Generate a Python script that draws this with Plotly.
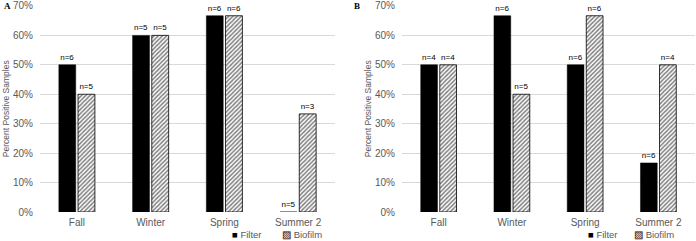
import plotly.graph_objects as go

categories = ["Fall", "Winter", "Spring", "Summer 2"]

a_filter = [50, 60, 66.67, 0]
a_biofilm = [40, 60, 66.67, 33.33]
a_filter_n = ["n=6", "n=5", "n=6", "n=5"]
a_biofilm_n = ["n=5", "n=5", "n=6", "n=3"]

b_filter = [50, 66.67, 50, 16.67]
b_biofilm = [50, 40, 66.67, 50]
b_filter_n = ["n=4", "n=6", "n=6", "n=6"]
b_biofilm_n = ["n=4", "n=5", "n=6", "n=4"]

y_ticks = [0, 10, 20, 30, 40, 50, 60, 70]
y_tick_labels = ["0%", "10%", "20%", "30%", "40%", "50%", "60%", "70%"]
series_names = ["Filter", "Biofilm"]

W, H = 696, 241
FONT = "Liberation Sans, Arial, sans-serif"
GRAY = "#595959"

fig = go.Figure()

def add_panel(fvals, bvals, fn, bn, xa, ya):
    fig.add_trace(go.Bar(
        x=categories, y=fvals, name=series_names[0], text=fn,
        textposition="outside", cliponaxis=False,
        textfont=dict(size=8, color="black", family=FONT),
        marker=dict(color="black", line=dict(color="black", width=0.5)),
        xaxis=xa, yaxis=ya, showlegend=False, hoverinfo="skip",
    ))
    fig.add_trace(go.Bar(
        x=categories, y=bvals, name=series_names[1], text=bn,
        textposition="outside", cliponaxis=False,
        textfont=dict(size=8, color="black", family=FONT),
        marker=dict(color="white", line=dict(color="black", width=0.8),
                    pattern=dict(shape="/", fgcolor="black", bgcolor="white",
                                 size=3, solidity=0.5)),
        xaxis=xa, yaxis=ya, showlegend=False, hoverinfo="skip",
    ))

add_panel(a_filter, a_biofilm, a_filter_n, a_biofilm_n, "x", "y")
add_panel(b_filter, b_biofilm, b_filter_n, b_biofilm_n, "x2", "y2")

ydom = [(H - 212) / H, (H - 5.5) / H]

xaxis_common = dict(showgrid=False, showline=False, zeroline=False, ticks="",
                    automargin=False, ticklabelstandoff=3,
                    tickfont=dict(size=10, color=GRAY, family=FONT))
yaxis_common = dict(range=[0, 70.15], tickvals=y_ticks, ticktext=y_tick_labels,
                    showgrid=True, gridcolor="#d9d9d9", gridwidth=1,
                    zeroline=False, showline=False, ticks="", automargin=False,
                    ticklabeloverflow="allow", ticklabelstandoff=6,
                    tickfont=dict(size=10, color=GRAY, family=FONT),
                    title=dict(text="Percent Positive Samples",
                               font=dict(size=8.5, color=GRAY, family=FONT),
                               standoff=2))

def legend_ann(x, text, sym):
    return dict(text=sym + " " + text, x=x / W, y=1 - 234 / H, xref="paper", yref="paper",
                xanchor="left", yanchor="middle", showarrow=False, borderpad=0,
                font=dict(size=9.5, color=GRAY, family=FONT))

annotations = [
    dict(text="<b>A</b>", x=2 / W, y=1 - 6 / H, xref="paper", yref="paper",
         xanchor="left", yanchor="middle", showarrow=False,
         font=dict(size=9, color="black", family="Liberation Serif, Times New Roman, serif")),
    dict(text="<b>B</b>", x=352 / W, y=1 - 6 / H, xref="paper", yref="paper",
         xanchor="left", yanchor="middle", showarrow=False,
         font=dict(size=9, color="black", family="Liberation Serif, Times New Roman, serif")),
    legend_ann(231, series_names[0], "<span style='color:black'>■</span>"),
    legend_ann(281, series_names[1], "<span style='color:black'>▨</span>"),
    legend_ann(587, series_names[0], "<span style='color:black'>■</span>"),
    legend_ann(633, series_names[1], "<span style='color:black'>▨</span>"),
]

fig.update_layout(
    width=W, height=H,
    margin=dict(l=0, r=0, t=0, b=0),
    paper_bgcolor="white", plot_bgcolor="white",
    barmode="group", bargap=0.48, bargroupgap=0.12,
    xaxis=dict(domain=[40 / W, 335 / W], anchor="y", **xaxis_common),
    yaxis=dict(domain=ydom, anchor="x", **yaxis_common),
    xaxis2=dict(domain=[402 / W, 695 / W], anchor="y2", **xaxis_common),
    yaxis2=dict(domain=ydom, anchor="x2", **yaxis_common),
    showlegend=False,
    annotations=annotations,
)

fig.write_html("out.html", config={"displayModeBar": False},
               post_script="document.body.style.margin='0';")
